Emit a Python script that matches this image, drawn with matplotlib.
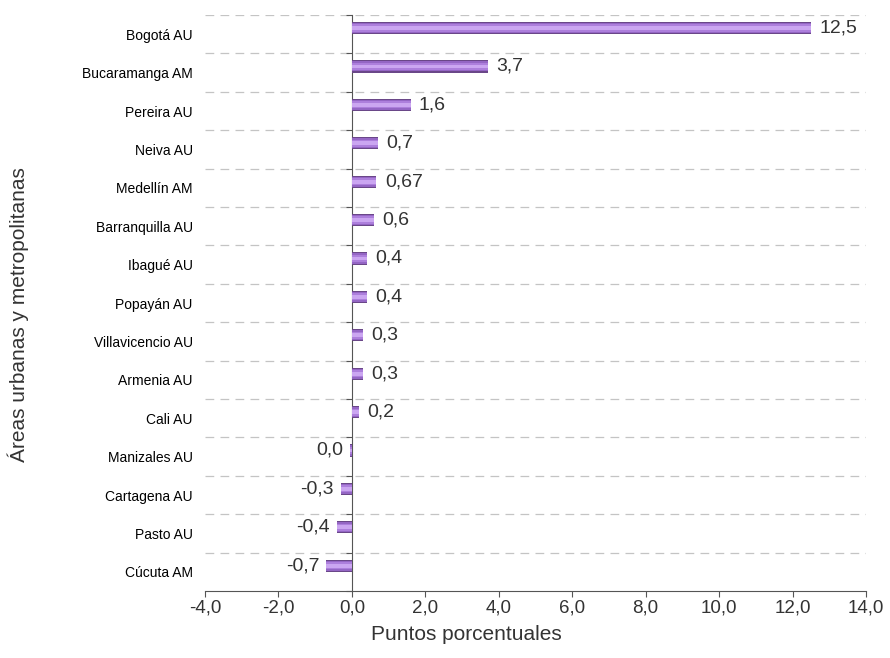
import matplotlib
matplotlib.use("Agg")
import matplotlib.pyplot as plt
import numpy as np

plt.rcParams['font.family'] = ['Liberation Sans', 'DejaVu Sans']

# Data (top to bottom)
areas = ["Bogotá AU", "Bucaramanga AM", "Pereira AU", "Neiva AU", "Medellín AM",
         "Barranquilla AU", "Ibagué AU", "Popayán AU", "Villavicencio AU",
         "Armenia AU", "Cali AU", "Manizales AU", "Cartagena AU", "Pasto AU",
         "Cúcuta AM"]
values = [12.5, 3.7, 1.6, 0.7, 0.67, 0.6, 0.4, 0.4, 0.3, 0.3, 0.2, -0.04,
          -0.3, -0.4, -0.7]
value_labels = ["12,5", "3,7", "1,6", "0,7", "0,67", "0,6", "0,4", "0,4",
                "0,3", "0,3", "0,2", "0,0", "-0,3", "-0,4", "-0,7"]
xticks = [-4, -2, 0, 2, 4, 6, 8, 10, 12, 14]

text_col = "#333333"
axis_col = "#555555"

fig = plt.figure(figsize=(8.9, 6.58), dpi=100)
ax = fig.add_axes([0.2303, 0.1018, 0.973 - 0.2303, 0.9772 - 0.1018])

pos = np.arange(len(areas))
bar_pos = pos - 0.16
bar_h = 0.32

# layered bars to imitate the Excel gradient
layers = [(1.0, "#6a4788"), (0.82, "#9466c4"), (0.58, "#ad7fdc"), (0.3, "#cba6f1")]
for frac, col in layers:
    ax.barh(bar_pos, values, height=bar_h * frac, color=col, linewidth=0, zorder=3)

for y, v, lab in zip(bar_pos, values, value_labels):
    if v >= 0:
        ax.annotate(lab, (v, y), xytext=(6, 0), textcoords="offset points",
                    ha="left", va="center", fontsize=14, color=text_col)
    else:
        ax.annotate(lab, (v, y), xytext=(-5, 0), textcoords="offset points",
                    ha="right", va="center", fontsize=14, color=text_col)

ax.set_xlim(-4, 14)
ax.set_ylim(len(areas) - 0.5, -0.5)
ax.set_xticks(xticks)
ax.set_xticklabels([f"{t:.1f}".replace(".", ",") for t in xticks], fontsize=13.5,
                   color=text_col)

# category gridlines at the boundaries
for b in np.arange(-0.5, len(areas) - 0.5, 1.0):
    ax.axhline(b, color="#c4c4c4", linestyle=(0, (7, 5)), linewidth=0.9, zorder=1)

ax.set_yticks(np.arange(-0.5, len(areas), 1.0))
ax.set_yticklabels([])
ax.set_yticks(pos, minor=True)
ax.set_yticklabels(areas, minor=True, fontsize=11.5, color=text_col)
ax.tick_params(axis="y", which="minor", length=0, pad=114.5)
ax.tick_params(axis="y", which="major", length=4, color=axis_col)

ax.tick_params(axis="x", length=4, color=axis_col, pad=2)

ax.spines["top"].set_visible(False)
ax.spines["right"].set_visible(False)
ax.spines["left"].set_position(("data", 0))
ax.spines["left"].set_color(axis_col)
ax.spines["bottom"].set_color(axis_col)

fig.text(466 / 890, 1 - 634 / 658, "Puntos porcentuales", ha="center", va="center",
         fontsize=15, color=text_col)
fig.text(18 / 890, 1 - 315 / 658, "Áreas urbanas y metropolitanas", rotation=90,
         ha="center", va="center", fontsize=15, color=text_col)

fig.savefig("out.png", dpi=100)
